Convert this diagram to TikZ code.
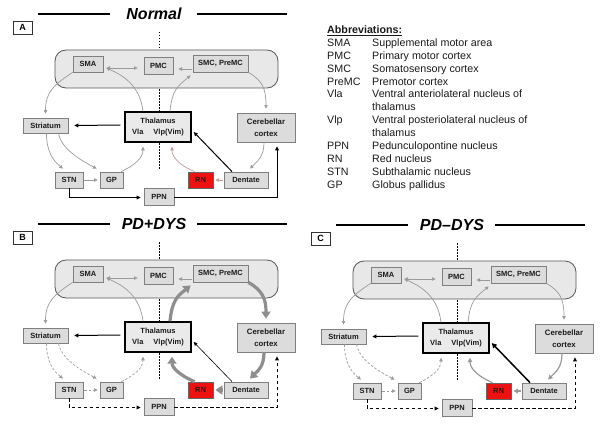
\documentclass[tikz,border=0pt]{standalone}
\usepackage{fontspec}
\setmainfont{Liberation Sans}
\usetikzlibrary{arrows.meta}
\definecolor{boxfill}{HTML}{DCDCDC}
\definecolor{boxdraw}{HTML}{7F7F7F}
\definecolor{panelfill}{HTML}{E8E8E8}
\definecolor{panelborder}{HTML}{555555}
\definecolor{arrgray}{HTML}{9A9A9A}
\definecolor{thickgray}{HTML}{8E8E8E}
\definecolor{rnred}{HTML}{EE1111}
\definecolor{pinkgray}{HTML}{C79A9A}
\definecolor{txt}{HTML}{1A1A1A}

\tikzset{
  x=1pt, y=-1pt,
  garrow/.style={draw=arrgray, line width=0.7pt, -{Triangle[length=3.6pt,width=3.4pt]}},
  garrowboth/.style={draw=arrgray, line width=0.7pt, {Triangle[length=3.6pt,width=3.4pt]}-{Triangle[length=3.6pt,width=3.4pt]}},
  gdashed/.style={garrow, dash pattern=on 2.5pt off 1.8pt},
  pinkarrow/.style={draw=pinkgray, line width=0.7pt, -{Triangle[length=3.6pt,width=3.4pt]}},
  gmed/.style={draw=arrgray, line width=1.2pt, -{Triangle[length=4.5pt,width=4.5pt]}},
  thickarrow/.style={draw=thickgray, line width=3.2pt, -{Triangle[length=7pt,width=9pt]}},
  barrow/.style={draw=black, line width=1pt, -{Triangle[length=4pt,width=3.8pt]}},
  bthin/.style={draw=black, line width=0.6pt, -{Triangle[length=3.6pt,width=3.4pt]}},
  bthick/.style={draw=black, line width=1.5pt, -{Triangle[length=5pt,width=5pt]}},
  bdashed/.style={barrow, dash pattern=on 3.5pt off 2.5pt},
  box/.style={draw=boxdraw, fill=boxfill, line width=0.8pt, inner sep=0pt, text=txt,
    font=\bfseries\fontsize{7.5}{9}\selectfont, align=center},
  thalbox/.style={box, draw=black, line width=1.4pt, fill=boxfill!60},
  region/.style={draw=panelborder, fill=panelfill, line width=0.8pt, rounded corners=11pt,
    inner sep=0pt, minimum width=223pt, minimum height=38pt},
  letterbox/.style={draw=black!80, fill=white, line width=0.8pt, inner sep=0pt,
    minimum width=19pt, minimum height=13pt, font=\bfseries\fontsize{9}{10}\selectfont},
  titletext/.style={font=\bfseries\itshape\fontsize{16}{18}\selectfont, inner sep=0pt},
  titleline/.style={draw=black, line width=1.6pt},
  midline/.style={draw=black, line width=0.6pt, dash pattern=on 1.5pt off 1.5pt},
  % connector defaults (panel A)
  smapmc/.style={garrowboth}, smcpmc/.style={garrow}, thsma/.style={garrow},
  thsmc/.style={garrow}, smastr/.style={garrow}, smccer/.style={garrow},
  thstr/.style={barrow}, strstn/.style={garrow}, strgp/.style={garrow},
  stngp/.style={garrow}, gpth/.style={garrow}, cerden/.style={garrow},
  denrn/.style={pinkarrow}, rnth/.style={pinkarrow}, denth/.style={barrow},
  stnppn/.style={barrow}, ppncer/.style={barrow},
}

\newcommand\panelbody[2]{%
  \draw[titleline] (38,14) -- (110,14);
  \draw[titleline] (197,14) -- (287,14);
  \node[titletext] (title) at (154,14) {#1};
  \node[letterbox] (letter) at (22.5,27.5) {#2};
  \draw[midline] (159,32) -- (159,170);
  \node[region] (cortex) at (166.5,69) {};
  \node[box, minimum width=30pt, minimum height=16pt] (sma) at (88,64) {SMA};
  \node[box, minimum width=29pt, minimum height=17pt] (pmc) at (158.5,65.5) {PMC};
  \node[box, minimum width=55pt, minimum height=17pt] (smc) at (220.5,63.5) {SMC, PreMC};
  \node[box, minimum width=45pt, minimum height=15pt] (stri) at (45.5,125.5) {Striatum};
  \node[thalbox, minimum width=66pt, minimum height=30pt, font=\bfseries\fontsize{7.5}{11}\selectfont] (thal) at (158,127) {Thalamus\\Vla\hspace{10pt}Vlp(Vim)};
  \node[box, minimum width=58pt, minimum height=29pt, font=\bfseries\fontsize{7.8}{12.5}\selectfont] (cereb) at (266,127.5) {Cerebellar\\cortex};
  \node[box, minimum width=28pt, minimum height=16pt] (stn) at (69,180) {STN};
  \node[box, minimum width=23pt, minimum height=16pt] (gp) at (111.5,180) {GP};
  \node[box, fill=rnred, draw=black!60, minimum width=25pt, minimum height=16pt] (rn) at (200.5,180) {RN};
  \node[box, minimum width=44pt, minimum height=16pt] (dentate) at (246,180) {Dentate};
  \node[box, minimum width=30pt, minimum height=17pt] (ppn) at (159,196.5) {PPN};
  % connectors
  \draw[smapmc] ([xshift=3pt,yshift=-4pt]sma.east) -- ([xshift=-6pt,yshift=-2.5pt]pmc.west);
  \draw[smcpmc] ([xshift=-1pt,yshift=-5.5pt]smc.west) -- ([xshift=5pt,yshift=-3.5pt]pmc.east);
  \draw[thsma] ([xshift=-15pt]thal.north) .. controls +(-3,-25) and +(18,8) .. ([xshift=3pt,yshift=-4pt]sma.east);
  \draw[thsmc] ([xshift=12pt]thal.north) .. controls +(2,-22) and +(-12,10) .. ([xshift=-2pt,yshift=-3pt]smc.south west);
  \draw[smastr] (sma.south west) .. controls +(-18,12) and +(0,-22) .. ([yshift=4pt]stri.north);
  \draw[smccer] (smc.south east) .. controls +(14,8) and +(0,-20) .. ([yshift=4pt]cereb.north);
  \draw[thstr] ([xshift=-4pt,yshift=2pt]thal.west) -- ([xshift=6pt]stri.east);
  \draw[strstn] ([xshift=1pt]stri.south) .. controls +(0,18) and +(-10,-8) .. ([xshift=-6pt,yshift=3pt]stn.north);
  \draw[strgp] ([xshift=13pt]stri.south) .. controls +(3,16) and +(-15,-8) .. ([xshift=-3pt,yshift=3pt]gp.north west);
  \draw[stngp] ([xshift=1pt]stn.east) -- ([xshift=-2pt]gp.west);
  \draw[gpth] ([xshift=-2pt]gp.north east) .. controls +(12,-6) and +(0,12) .. ([xshift=-15pt,yshift=-4pt]thal.south);
  \draw[cerden] ([xshift=-2pt]cereb.south) .. controls +(0,14) and +(8,-8) .. ([xshift=4pt,yshift=3pt]dentate.north);
  \draw[denrn] ([xshift=-1pt]dentate.west) -- ([xshift=2pt]rn.east);
  \draw[rnth] ([xshift=-6pt]rn.north) .. controls +(-12,-5) and +(0,12) .. ([xshift=14pt,yshift=-4pt]thal.south);
  \draw[denth] ([xshift=-14pt]dentate.north) -- ([xshift=2pt,yshift=-5pt]thal.east);
  \draw[stnppn] (stn.south) |- ([xshift=-3pt,yshift=-1pt]ppn.west);
  \draw[ppncer] ([yshift=-1pt]ppn.east) -| ([xshift=11pt,yshift=-4pt]cereb.south);
}

\begin{document}
\begin{tikzpicture}
\fill[white] (0,0) rectangle (601,425);
\useasboundingbox (0,0) rectangle (601,425);

\begin{scope}[name prefix=A-]
  \panelbody{Normal}{A}
\end{scope}

\begin{scope}[shift={(0,210)}, name prefix=B-,
  thsmc/.style={thickarrow}, smccer/.style={thickarrow}, cerden/.style={thickarrow},
  denrn/.style={thickarrow}, rnth/.style={thickarrow}, denth/.style={bthin},
  strstn/.style={gdashed}, strgp/.style={gdashed}, stngp/.style={gdashed}, gpth/.style={gdashed},
  stnppn/.style={bdashed}, ppncer/.style={bdashed}]
  \panelbody{PD+DYS}{B}
\end{scope}

\begin{scope}[shift={(298,211)}, name prefix=C-,
  cerden/.style={gmed}, denrn/.style={gmed}, rnth/.style={gmed}, denth/.style={bthick},
  strstn/.style={gdashed}, strgp/.style={gdashed}, stngp/.style={gdashed}, gpth/.style={gdashed},
  stnppn/.style={bdashed}, ppncer/.style={bdashed}]
  \panelbody{PD--DYS}{C}
\end{scope}

\node[anchor=base west, inner sep=0pt, text=txt, font=\fontsize{10.7}{12.9}\selectfont] (abbr) at (327,33.5)
{\begin{tabular}[t]{@{}p{45pt}@{}l@{}}
\multicolumn{2}{@{}l@{}}{\bfseries\underline{Abbreviations:}}\\
SMA & Supplemental motor area\\
PMC & Primary motor cortex\\
SMC & Somatosensory cortex\\
PreMC & Premotor cortex\\
Vla & Ventral anteriolateral nucleus of\\
 & thalamus\\
Vlp & Ventral posteriolateral nucleus of\\
 & thalamus\\
PPN & Pedunculopontine nucleus\\
RN & Red nucleus\\
STN & Subthalamic nucleus\\
GP & Globus pallidus
\end{tabular}};
\end{tikzpicture}
\end{document}
